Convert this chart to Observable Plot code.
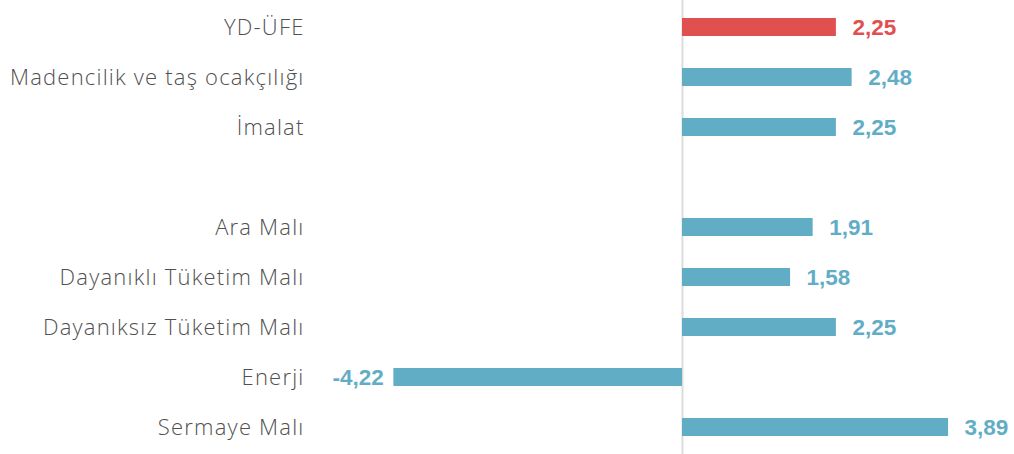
<!DOCTYPE html>
<html><head><meta charset="utf-8">
<script src="https://cdn.jsdelivr.net/npm/d3@7"></script>
<script src="https://cdn.jsdelivr.net/npm/@observablehq/plot@0.6"></script>
<style>
html,body{margin:0;padding:0;background:#fff;}
#chart{position:relative;width:1014px;height:454px;overflow:hidden;}
svg{position:relative;}
g[aria-label="y-axis tick label"] text{letter-spacing:1.2px;}
</style></head>
<body><div id="chart"></div>
<script>
const categories = ["YD-ÜFE","Madencilik ve taş ocakçılığı","İmalat"," ","Ara Malı","Dayanıklı Tüketim Malı","Dayanıksız Tüketim Malı","Enerji","Sermaye Malı"];
const values = [2.25, 2.48, 2.25, null, 1.91, 1.58, 2.25, -4.22, 3.89];
const highlight = ["YD-ÜFE"];
const labels = ["2,25","2,48","2,25","","1,91","1,58","2,25","-4,22","3,89"];

const data = categories.map((c,i)=>({cat:c, v:values[i], label:labels[i], hl: highlight.includes(c)})).filter(d=>d.v!==null);
const BLUE = "#62adc6", RED = "#e0504f";

const chart = Plot.plot({
  width: 1014, height: 454,
  marginTop: 16, marginBottom: 17, marginLeft: 313, marginRight: 0,
  style: {background: "transparent"},
  x: {domain: [-5.395, 4.854], axis: null},
  y: {domain: categories, paddingInner: 0.64, paddingOuter: 0, label: null},
  marks: [
    Plot.ruleX([0], {stroke: "#dcdcdc", strokeWidth: 2, insetTop: -16, insetBottom: -17}),
    Plot.barX(data, {x: "v", y: "cat", fill: d => d.hl ? RED : BLUE}),
    Plot.axisY({tickSize: 0, tickPadding: 9, fontSize: 22, fill: "#505050",
      fontFamily: "Open Sans", fontWeight: 300, tickFormat: d => d}),
    Plot.text(data.filter(d=>d.v>=0), {x: "v", y: "cat", text: "label", dx: 16, textAnchor: "start",
      fill: d => d.hl ? RED : BLUE, fontSize: 22.5, fontWeight: "bold", fontFamily: "Liberation Sans"}),
    Plot.text(data.filter(d=>d.v<0), {x: "v", y: "cat", text: "label", dx: -10, textAnchor: "end",
      fill: d => d.hl ? RED : BLUE, fontSize: 22.5, fontWeight: "bold", fontFamily: "Liberation Sans"})
  ]
});
document.getElementById("chart").appendChild(chart);
</script></body></html>
